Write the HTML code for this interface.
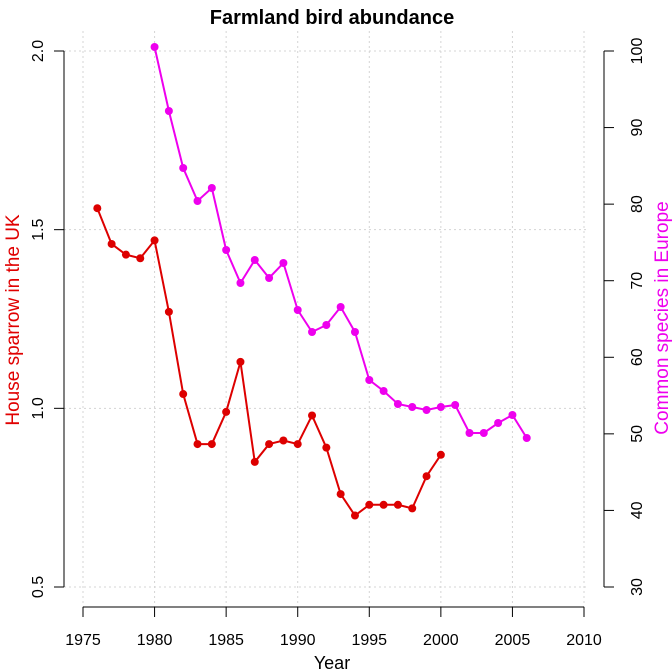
<!DOCTYPE html>
<html><head><meta charset="utf-8"><style>body{margin:0;background:#fff}svg{display:block}</style></head>
<body>
<svg id="s" width="672" height="672" xmlns="http://www.w3.org/2000/svg" font-family="Liberation Sans, sans-serif">
<rect width="672" height="672" fill="#fff"/>
<text x="332" y="24" text-anchor="middle" font-size="20" font-weight="bold">Farmland bird abundance</text>
<text x="332" y="669" text-anchor="middle" font-size="18">Year</text>
<text transform="translate(19,320) rotate(-90)" text-anchor="middle" font-size="19" fill="#e00000">House sparrow in the UK</text>
<text transform="translate(668,318) rotate(-90)" text-anchor="middle" font-size="19" fill="#ee00ee">Common species in Europe</text>
<g id="g"></g>
</svg>
<script>
const g=document.getElementById('g');let h='';
const X=y=>83+(y-1975)*501/35;
const YL=v=>51+(2-v)*357.33;
const YR=v=>51+(100-v)*7.657;
for(let y=1975;y<=2010;y+=5){h+=`<line x1="${X(y)}" y1="31" x2="${X(y)}" y2="607" stroke="#d4d4d4" stroke-dasharray="2,3"/>`;
h+=`<line x1="${X(y)}" y1="607" x2="${X(y)}" y2="617" stroke="#000"/><text x="${X(y)}" y="645" text-anchor="middle" font-size="16">${y}</text>`;}
h+=`<line x1="${X(1975)}" y1="607" x2="${X(2010)}" y2="607" stroke="#000"/>`;
for(const v of [0.5,1,1.5,2]){h+=`<line x1="64" y1="${YL(v)}" x2="586" y2="${YL(v)}" stroke="#d4d4d4" stroke-dasharray="2,3"/>`;
h+=`<line x1="54" y1="${YL(v)}" x2="64" y2="${YL(v)}" stroke="#000"/><text transform="translate(43,${YL(v)}) rotate(-90)" text-anchor="middle" font-size="16">${v.toFixed(1)}</text>`;}
h+=`<line x1="64" y1="${YL(2)}" x2="64" y2="${YL(0.5)}" stroke="#000"/>`;
for(let v=30;v<=100;v+=10){h+=`<line x1="604" y1="${YR(v)}" x2="614" y2="${YR(v)}" stroke="#000"/><text transform="translate(642,${YR(v)}) rotate(-90)" text-anchor="middle" font-size="16">${v}</text>`;}
h+=`<line x1="604" y1="${YR(100)}" x2="604" y2="${YR(30)}" stroke="#000"/>`;
const red=[1.56,1.46,1.43,1.42,1.47,1.27,1.04,0.90,0.90,0.99,1.13,0.85,0.90,0.91,0.90,0.98,0.89,0.76,0.70,0.73,0.73,0.73,0.72,0.81,0.87];
const mag=[47,111,168,201,188,250,283,260,278,263,310,332,325,307,332,380,391,404,407,410,407,405,433,433,423,415,438];
function series(pts,c){h+=`<polyline points="${pts.map(p=>p.join(',')).join(' ')}" fill="none" stroke="${c}" stroke-width="2"/>`;
pts.forEach(p=>h+=`<circle cx="${p[0]}" cy="${p[1]}" r="4" fill="${c}"/>`);}
series(red.map((v,i)=>[X(1976+i),YL(v)]),'#dd0000');
series(mag.map((v,i)=>[X(1980+i),v]),'#ee00ee');
g.innerHTML=h;
</script>
</body></html>
